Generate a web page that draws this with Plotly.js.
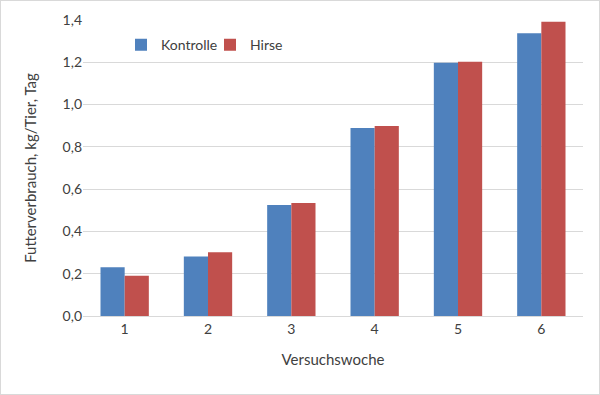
<!DOCTYPE html>
<html>
<head>
<meta charset="utf-8">
<script src="https://cdn.plot.ly/plotly-3.0.1.min.js"></script>
<style>
html,body{margin:0;padding:0;background:#fff;}
#chart{width:598px;height:393px;border:1px solid #d9d9d9;}
</style>
</head>
<body>
<div id="chart"></div>
<script>
const weeks = ['1','2','3','4','5','6'];
const kontrolle = [0.23, 0.282, 0.525, 0.889, 1.198, 1.337];
const hirse = [0.19, 0.301, 0.535, 0.899, 1.203, 1.392];
const seriesNames = ['Kontrolle', 'Hirse'];

const data = [
  {type:'bar', x:weeks, y:kontrolle, name:seriesNames[0], marker:{color:'#4F81BD'}},
  {type:'bar', x:weeks, y:hirse, name:seriesNames[1], marker:{color:'#C0504D'}}
];
const fam = 'Lato, Open Sans, sans-serif';
const col = '#404040';
const layout = {
  width:598, height:393,
  margin:{l:82, r:16, t:19, b:78},
  paper_bgcolor:'#fff', plot_bgcolor:'#fff',
  separators:',.',
  font:{family:fam, size:14, color:col},
  barmode:'group', bargap:0.42, bargroupgap:0,
  showlegend:true,
  legend:{orientation:'h', x:0.076, y:0.915, xanchor:'left', yanchor:'middle',
          font:{family:fam, size:14, color:col}, bgcolor:'rgba(0,0,0,0)',
          entrywidth:44, entrywidthmode:'pixels'},
  xaxis:{type:'category', showgrid:false, showline:true, linecolor:'#d9d9d9', linewidth:1,
         ticks:'', tickfont:{family:fam, size:14, color:col},
         title:{text:'Versuchswoche', font:{family:fam, size:15, color:col}, standoff:18}},
  yaxis:{range:[0,1.4], dtick:0.2, tickformat:'.1f', showgrid:true, gridcolor:'#d9d9d9', gridwidth:1,
         zeroline:false, showline:false, ticks:'', ticklen:0, tickfont:{family:fam, size:14, color:col},
         title:{text:'Futterverbrauch, kg/Tier, Tag', font:{family:fam, size:15, color:col}, standoff:22}}
};
Plotly.newPlot('chart', data, layout, {displayModeBar:false, staticPlot:true});
</script>
</body>
</html>
